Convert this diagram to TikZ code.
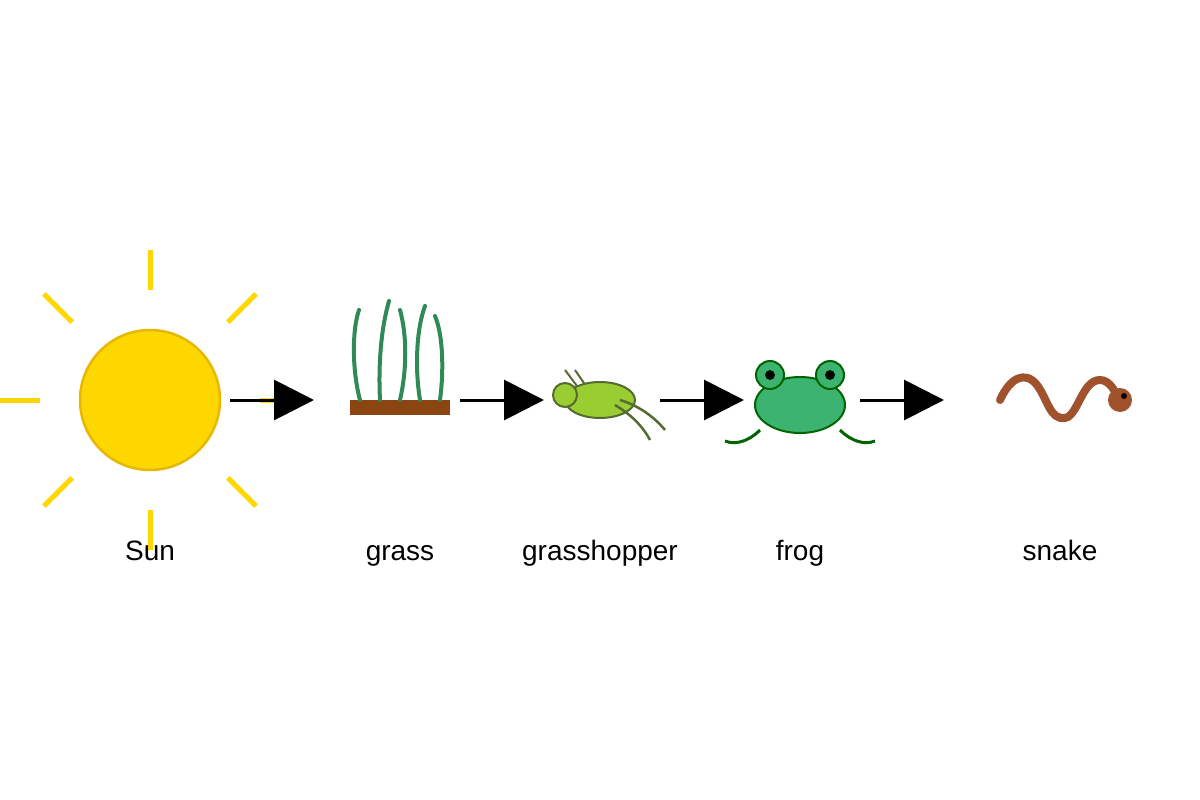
\documentclass[tikz,border=0pt]{standalone}
\usepackage{fontspec}
\setmainfont{Liberation Sans}
\usetikzlibrary{arrows.meta}
\definecolor{sunc}{HTML}{FFD700}
\definecolor{sunedge}{HTML}{E6B800}
\definecolor{grassc}{HTML}{2E8B57}
\definecolor{soil}{HTML}{8B4513}
\definecolor{hopper}{HTML}{9ACD32}
\definecolor{hopedge}{HTML}{556B2F}
\definecolor{frogc}{HTML}{3CB371}
\definecolor{frogedge}{HTML}{006400}
\definecolor{snakec}{HTML}{A0522D}
\begin{document}
\begin{tikzpicture}[x=1pt,y=-1pt,
  lbl/.style={font=\fontsize{28}{32}\selectfont, inner sep=0pt, anchor=base},
  flow/.style={line width=3pt, -{Triangle[length=40pt,width=40pt]}, shorten >=0pt},
  ray/.style={sunc, line width=5pt},
  blade/.style={grassc, line width=4pt, line cap=round}]
\useasboundingbox (0,0) rectangle (1200,800);
% sun
\foreach \a in {0,45,...,315}
  \draw[ray] (150,400) ++(\a:110) -- ++(\a:40);
\node[circle, fill=sunc, draw=sunedge, line width=2.5pt, minimum size=140pt, inner sep=0pt] (sun) at (150,400) {};
% grass
\fill[soil] (350,400) rectangle (450,415);
\draw[blade] (360,400) .. controls (352,370) and (352,330) .. (359,310);
\draw[blade] (380,400) .. controls (378,360) and (382,325) .. (389,301);
\draw[blade] (400,400) .. controls (407,370) and (407,335) .. (400,310);
\draw[blade] (420,400) .. controls (415,370) and (416,330) .. (425,306);
\draw[blade] (440,400) .. controls (444,370) and (443,335) .. (435,316);
% grasshopper
\draw[hopedge, line width=2pt] (565,370) -- (577,386) (575,370) -- (586,386);
\draw[fill=hopper, draw=hopedge, line width=2pt] (600,400) ellipse [x radius=35, y radius=18];
\draw[fill=hopper, draw=hopedge, line width=2pt] (565,395) circle (12);
\draw[hopedge, line width=2.5pt] (620,400) .. controls (640,406) and (655,418) .. (665,430);
\draw[hopedge, line width=2.5pt] (615,405) .. controls (630,414) and (642,425) .. (650,440);
% frog
\draw[frogedge, line width=3pt] (760,430) .. controls (748,442) and (735,445) .. (725,441);
\draw[frogedge, line width=3pt] (840,430) .. controls (852,442) and (865,445) .. (875,441);
\draw[fill=frogc, draw=frogedge, line width=2pt] (800,405) ellipse [x radius=45, y radius=28];
\foreach \x in {770,830}{
  \draw[fill=frogc, draw=frogedge, line width=2pt] (\x,375) circle (14);
  \fill[black!80!frogedge] (\x,375) circle (5);
  \fill[black] (\x,375) circle (3.5);}
% snake
\draw[snakec, line width=8pt, line cap=round] (1000,400) .. controls (1010,378) and (1025,370) .. (1037,385)
  .. controls (1048,400) and (1050,420) .. (1065,418) .. controls (1078,416) and (1082,380) .. (1100,380)
  .. controls (1110,380) and (1115,392) .. (1120,400);
\fill[snakec] (1120,400) circle (12);
\fill[black] (1124,396) circle (3);
% arrows
\coordinate (a1) at (230,400); \coordinate (b1) at (314,400);
\coordinate (a2) at (460,400); \coordinate (b2) at (544,400);
\coordinate (a3) at (660,400); \coordinate (b3) at (744,400);
\coordinate (a4) at (860,400); \coordinate (b4) at (944,400);
\foreach \i in {1,...,4} \draw[flow] (a\i) -- (b\i);
% labels
\node[lbl] (l1) at (150,560) {Sun};
\node[lbl] (l2) at (400,560) {grass};
\node[lbl] (l3) at (600,560) {grasshopper};
\node[lbl] (l4) at (800,560) {frog};
\node[lbl] (l5) at (1060,560) {snake};
\end{tikzpicture}
\end{document}
